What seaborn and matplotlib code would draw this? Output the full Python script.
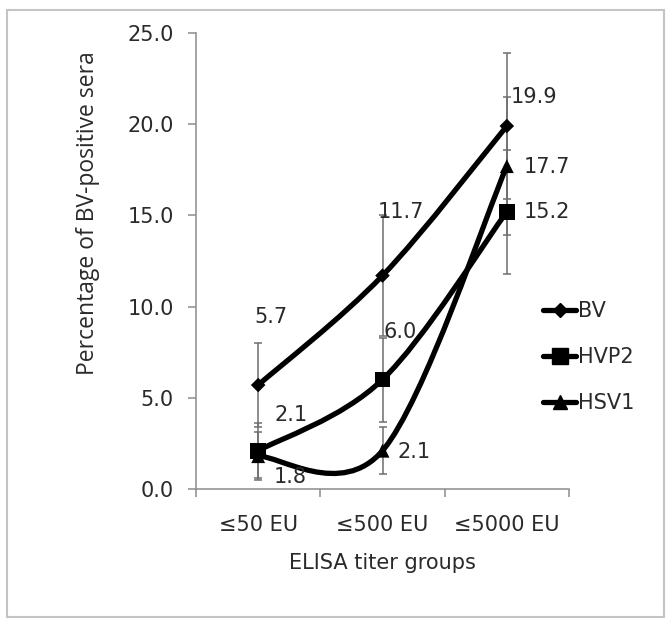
import numpy as np
import pandas as pd
import seaborn as sns
import matplotlib.pyplot as plt
from matplotlib.path import Path
from matplotlib.patches import PathPatch, Rectangle
from matplotlib.lines import Line2D

# values
groups = ['≤50 EU', '≤500 EU', '≤5000 EU']
series = ['BV', 'HVP2', 'HSV1']
bv = [5.7, 11.7, 19.9]
hvp2 = [2.1, 6.0, 15.2]
hsv1 = [1.8, 2.1, 17.7]
bv_err = [2.3, 3.3, 4.0]
hvp2_err = [1.5, 2.3, 3.4]
hsv1_err = [1.3, 1.3, 3.8]
y_ticks = [0, 5, 10, 15, 20, 25]

# label offsets in pixels (dx, dy), styling only
label_offsets = {
    'BV': [(13, 68), (18, 64), (27, 29)],
    'HVP2': [(33, 36), (18, 48), (40, 0)],
    'HSV1': [(32, -21), (32, -1), (40, -1)],
}
markers = {'BV': 'D', 'HVP2': 's', 'HSV1': '^'}
marker_sizes = {'BV': 55, 'HVP2': 130, 'HSV1': 100}


def smooth_path(xs, ys):
    """Bezier path through the points, like a spreadsheet 'smoothed line'."""
    pts = np.column_stack([xs, ys]).astype(float)
    n = len(pts)
    verts = [pts[0]]
    codes = [Path.MOVETO]
    for i in range(n - 1):
        p_prev = pts[max(i - 1, 0)]
        p_next = pts[min(i + 2, n - 1)]
        c1 = pts[i] + (pts[i + 1] - p_prev) / 6
        c2 = pts[i + 1] - (p_next - pts[i]) / 6
        verts += [c1, c2, pts[i + 1]]
        codes += [Path.CURVE4] * 3
    return Path(verts, codes)


values = {'BV': bv, 'HVP2': hvp2, 'HSV1': hsv1}
errors = {'BV': bv_err, 'HVP2': hvp2_err, 'HSV1': hsv1_err}

df = pd.DataFrame({
    'group': np.tile(np.arange(len(groups)), len(series)),
    'value': bv + hvp2 + hsv1,
    'err': bv_err + hvp2_err + hsv1_err,
    'series': np.repeat(series, len(groups)),
})

sns.set_style('white')
plt.rcParams['font.family'] = ['DejaVu Sans']

fig = plt.figure(figsize=(6.7, 6.2), dpi=100)
ax = fig.add_axes([196 / 670, 1 - 489 / 620, 373 / 670, 456 / 620])

# outer frame
fig.patches.append(Rectangle((7 / 670, 3 / 620), 657 / 670, 607 / 620,
                             transform=fig.transFigure, fill=False,
                             edgecolor='#c4c4c4', lw=1.5))

for name in series:
    x = np.arange(len(groups))
    ax.errorbar(x, values[name], yerr=errors[name], fmt='none',
                ecolor='#6e6e6e', elinewidth=1.1, capsize=3, capthick=1.1,
                zorder=1)
    ax.add_patch(PathPatch(smooth_path(x, values[name]), facecolor='none',
                           edgecolor='black', lw=3.8, zorder=2,
                           capstyle='round'))

sns.scatterplot(data=df, x='group', y='value', style='series', size='series',
                markers=markers, sizes=marker_sizes, color='black',
                edgecolor='black', linewidth=0, legend=False, zorder=3, ax=ax)

for name in series:
    for i, v in enumerate(values[name]):
        ax.annotate(f'{v:.1f}', (i, v), xytext=label_offsets[name][i],
                    textcoords='offset pixels', ha='center', va='center',
                    fontsize=15, color='#2a2a2a', zorder=4)

ax.set_xlim(-0.5, len(groups) - 0.5)
ax.set_ylim(0, 25)
ax.set_yticks(y_ticks)
ax.set_yticklabels([f'{t:.1f}' for t in y_ticks])
ax.set_xticks(range(len(groups)))
ax.set_xticklabels(groups)
ax.set_xticks(np.arange(-0.5, len(groups)), minor=True)
ax.tick_params(axis='x', which='major', length=0, pad=18.5, labelsize=15,
               labelcolor='#2a2a2a')
ax.tick_params(axis='x', which='minor', length=6, width=1.1, color='#8c8c8c',
               direction='out', bottom=True)
ax.tick_params(axis='y', length=6, width=1.1, color='#8c8c8c', direction='out',
               left=True, pad=10, labelsize=15, labelcolor='#2a2a2a')

for side in ['top', 'right']:
    ax.spines[side].set_visible(False)
for side in ['left', 'bottom']:
    ax.spines[side].set_color('#8c8c8c')
    ax.spines[side].set_linewidth(1.1)

ax.set_xlabel('ELISA titer groups', fontsize=15, color='#2a2a2a', labelpad=13)
ax.set_ylabel('Percentage of BV-positive sera', fontsize=16.5, color='#2a2a2a',
              family=['Open Sans', 'DejaVu Sans'])
ax.yaxis.set_label_coords(-0.258, 0.604)

handles = [Line2D([], [], color='black', lw=3.8, marker=markers[n],
                  markersize={'BV': 7, 'HVP2': 11, 'HSV1': 10}[n])
           for n in series]
fig.legend(handles, series, loc='center left',
           bbox_to_anchor=(543 / 670, 1 - 357 / 620), frameon=False,
           fontsize=15, handlelength=1.6, handletextpad=0.1,
           labelspacing=1.25, borderpad=0, borderaxespad=0,
           labelcolor='#2a2a2a')

fig.savefig('out.png', dpi=100)
